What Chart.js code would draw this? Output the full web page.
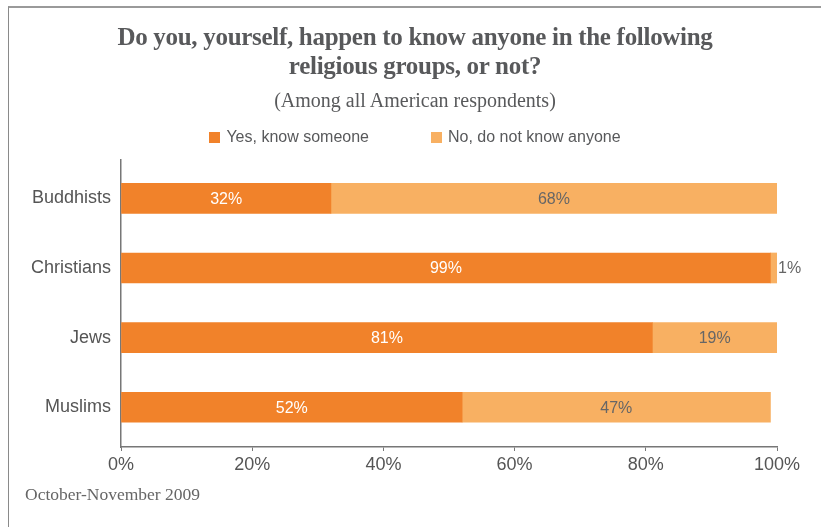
<!DOCTYPE html>
<html>
<head>
<meta charset="utf-8">
<script src="https://cdn.jsdelivr.net/npm/chart.js@4.4.0/dist/chart.umd.min.js"></script>
<style>
    html, body { margin: 0; padding: 0; background: #fff; }
    #frame { position: relative; width: 821px; height: 527px; overflow: hidden; }
    #border { position: absolute; left: 8px; top: 6px; right: -4px; bottom: -4px; border-top: 2px solid #9a9a9a; border-left: 1px solid #8a8a8a; }
    #chart { position: absolute; left: 0; top: 0; }
    .head { position: absolute; left: 8px; width: 814px; text-align: center; color: #58595b; }
    #title { top: 22px; font: bold 25px/29px "Liberation Serif", serif; letter-spacing: -0.3px; }
    #subtitle { top: 89px; font: 20px/22px "Liberation Serif", serif; }
    #legend { top: 128px; font: 16px/18px "Liberation Sans", Arial, sans-serif; display: flex; justify-content: center; gap: 62px; }
    #legend span.box { display: inline-block; width: 11px; height: 11px; margin-right: 6px; vertical-align: -1px; }
    #footer { position: absolute; left: 25px; top: 484px; font: 17.5px "Liberation Serif", serif; color: #666; }
</style>
</head>
<body>
<div id="frame">
    <div id="border"></div>
    <canvas id="chart" width="821" height="527"></canvas>
    <div class="head" id="title">Do you, yourself, happen to know anyone in the following<br>religious groups, or not?</div>
    <div class="head" id="subtitle">(Among all American respondents)</div>
    <div class="head" id="legend"></div>
    <div id="footer">October-November 2009</div>
</div>
<script>
    const categories = ['Buddhists', 'Christians', 'Jews', 'Muslims'];
    const seriesNames = ['Yes, know someone', 'No, do not know anyone'];
    const yesValues = [32, 99, 81, 52];
    const noValues = [68, 1, 19, 47];
    const xTicks = [0, 20, 40, 60, 80, 100];

    const colors = ['#f1822a', '#f8b062'];
    const labelColors = ['#ffffff', '#666666'];

    // Legend
    const legendEl = document.getElementById('legend');
    seriesNames.forEach((name, i) => {
        const item = document.createElement('div');
        item.innerHTML = '<span class="box" style="background:' + colors[i] + '"></span>' + name;
        legendEl.appendChild(item);
    });

    // Value labels inside bars
    const barLabels = {
        id: 'barLabels',
        afterDatasetsDraw(chart) {
            const ctx = chart.ctx;
            ctx.save();
            ctx.font = '16px "Liberation Sans", Arial, sans-serif';
            ctx.textBaseline = 'middle';
            chart.data.datasets.forEach((ds, di) => {
                const meta = chart.getDatasetMeta(di);
                meta.data.forEach((bar, i) => {
                    const v = ds.data[i].x;
                    const p = bar.getProps(['x', 'y', 'base'], true);
                    if (v < 5) {
                        ctx.fillStyle = '#666666';
                        ctx.textAlign = 'left';
                        ctx.fillText(v + '%', p.x + 1, p.y + 1);
                    } else {
                        ctx.fillStyle = labelColors[di];
                        ctx.textAlign = 'center';
                        ctx.fillText(v + '%', (p.x + p.base) / 2, p.y + 1);
                    }
                });
            });
            ctx.restore();
        }
    };

    const toPoints = arr => arr.map((v, i) => ({ x: v, y: i }));

    new Chart(document.getElementById('chart'), {
        type: 'bar',
        data: {
            datasets: [
                { label: seriesNames[0], data: toPoints(yesValues), backgroundColor: colors[0], barThickness: 30 },
                { label: seriesNames[1], data: toPoints(noValues), backgroundColor: colors[1], barThickness: 30 }
            ]
        },
        options: {
            indexAxis: 'y',
            responsive: false,
            animation: false,
            layout: { padding: { top: 160, bottom: 40, left: 0, right: 44 } },
            plugins: {
                legend: { display: false },
                tooltip: { enabled: false }
            },
            scales: {
                x: {
                    stacked: true,
                    min: 0,
                    max: 100,
                    afterBuildTicks: s => { s.ticks = xTicks.map(v => ({ value: v })); },
                    afterFit: s => { s.height = 40; },
                    ticks: {
                        callback: v => v + '%',
                        color: '#555',
                        font: { size: 18, family: '"Liberation Sans", Arial, sans-serif' },
                        padding: 3,
                        maxRotation: 0
                    },
                    grid: { drawOnChartArea: false, drawTicks: true, tickLength: 4, color: '#777' },
                    border: { display: true, color: '#777', width: 1.5 }
                },
                y: {
                    type: 'linear',
                    stacked: true,
                    reverse: true,
                    offset: false,
                    min: -0.55,
                    max: 3.57,
                    afterBuildTicks: s => { s.ticks = categories.map((c, i) => ({ value: i })); },
                    afterFit: s => { s.width = 121; },
                    ticks: {
                        callback: v => categories[v],
                        color: '#555',
                        font: { size: 18, family: '"Liberation Sans", Arial, sans-serif' },
                        padding: 10
                    },
                    grid: { display: false, drawTicks: false, offset: false },
                    border: { display: true, color: '#777', width: 1.5 }
                }
            }
        },
        plugins: [barLabels]
    });
</script>
</body>
</html>
